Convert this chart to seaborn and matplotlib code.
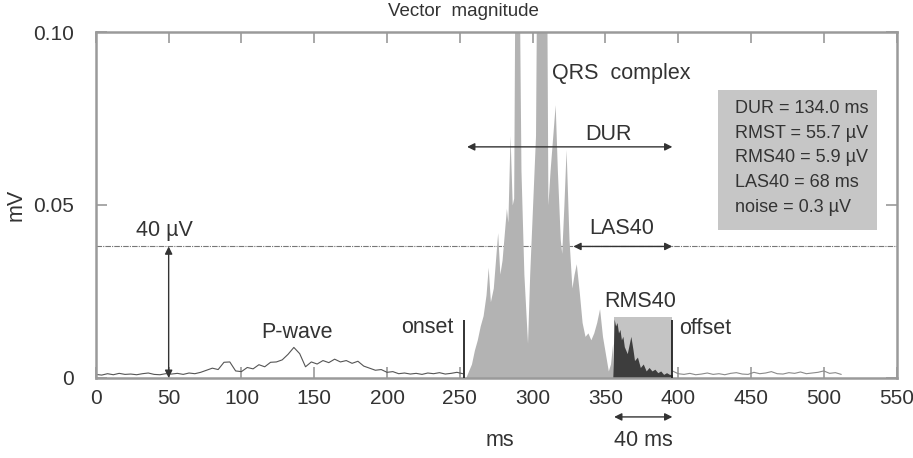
import numpy as np
import pandas as pd
import matplotlib
matplotlib.use("Agg")
import matplotlib.pyplot as plt
from matplotlib.patches import Rectangle
import seaborn as sns

# --- data (ms, mV) ---
pre_t = np.arange(0, 253, 4)
pre_v = [.0010, .0008, .0012, .0009, .0013, .0010, .0011, .0009, .0012, .0014,
         .0010, .0009, .0012, .0011, .0013, .0010, .0014, .0012, .0016,
         .0022, .0028, .0024, .0045, .0046, .0020, .0018, .0030, .0026, .0038,
         .0032, .0045, .0046, .0052, .0068, .0088, .0070, .0032, .0046, .0040,
         .0050, .0044, .0054, .0046, .0050, .0042, .0048, .0034, .0028, .0022,
         .0024, .0016,
         .0018, .0012, .0014, .0011, .0013, .0010, .0014, .0012, .0015, .0011,
         .0013, .0016, .0012]

post_t = np.arange(396, 513, 4)
post_v = [.0020, .0012, .0010, .0013, .0009, .0011, .0014, .0010, .0012, .0009,
          .0013, .0015, .0011, .0010, .0016, .0012, .0014, .0018, .0012, .0011,
          .0015, .0013, .0017, .0012, .0014, .0016, .0020, .0013, .0015, .0010]

qrs_t = [254, 256, 258, 260, 262, 264, 266, 268, 269.5, 271, 273, 276, 277.5, 279,
         282, 283, 284.5, 286, 287, 288, 290.5, 292, 294, 296.5, 298, 300, 302,
         303, 309.5, 310.5, 312, 315.5, 317, 319, 320, 321.5, 323, 325, 327, 328.5,
         330, 332, 334, 336, 338, 340, 342, 344, 346, 348, 350, 352, 353.5, 355]
qrs_v = [0.000, 0.002, 0.004, 0.008, 0.011, 0.015, 0.018, 0.024, 0.032, 0.022,
         0.026, 0.042, 0.030, 0.034, 0.049, 0.045, 0.070, 0.050, 0.052, 0.130,
         0.130, 0.060, 0.030, 0.010, 0.030, 0.050, 0.070, 0.130, 0.130, 0.050,
         0.060, 0.079, 0.060, 0.040, 0.036, 0.050, 0.066, 0.040, 0.026, 0.030,
         0.033, 0.025, 0.016, 0.012, 0.013, 0.011, 0.013, 0.016, 0.020, 0.012,
         0.007, 0.002, 0.004, 0.010]

late_t = [355, 356, 357, 358, 359, 360, 361, 362, 363, 364, 365, 366, 367.5, 369,
          370, 372, 374, 376, 378, 380, 382, 384, 386, 388, 390, 392, 394, 396]
late_v = [0.000, 0.017, 0.015, 0.016, 0.013, 0.014, 0.011, 0.012, 0.009, 0.008,
          0.007, 0.009, 0.012, 0.008, 0.005, 0.006, 0.003, 0.004, 0.002, 0.003,
          0.002, 0.0025, 0.0015, 0.002, 0.001, 0.0015, 0.001, 0.001]

onset, offset = 253, 396
las_start = 328
threshold = 0.038
stats = ["DUR = 134.0 ms", "RMST = 55.7 µV", "RMS40 = 5.9 µV",
         "LAS40 = 68 ms", "noise = 0.3 µV"]

sns.set_theme(style="white")
plt.rcParams["font.family"] = ["Liberation Sans", "DejaVu Sans"]
TXT = "#333333"
FRAME = "#9a9a9a"

fig = plt.figure(figsize=(9.13, 4.58), dpi=100)
ax = fig.add_axes([0.105, 0.175, 0.877, 0.755])

noise = pd.DataFrame({"t": np.concatenate([pre_t, post_t]),
                      "v": np.concatenate([pre_v, post_v]),
                      "seg": ["pre"] * len(pre_t) + ["post"] * len(post_t)})
sns.lineplot(data=noise[noise.seg == "pre"], x="t", y="v", ax=ax,
             color="#555555", lw=0.8, estimator=None)
sns.lineplot(data=noise[noise.seg == "post"], x="t", y="v", ax=ax,
             color="#8a8a8a", lw=0.8, estimator=None)

ax.fill_between(qrs_t, qrs_v, color="#b3b3b3", lw=0)
ax.add_patch(Rectangle((late_t[0] + 1, 0), offset - late_t[0] - 1, 0.0175,
                       facecolor="#c4c4c4", edgecolor="none", zorder=1))
ax.fill_between(late_t, late_v, color="#3d3d3d", lw=0, zorder=2)

ax.vlines([onset, offset], 0, 0.0168, color="#222222", lw=1.3, zorder=3)
ax.axhline(threshold, color="#777777", lw=0.8, ls=(0, (5, 1, 1, 1)), zorder=0)

arrow = dict(arrowstyle="<|-|>", color=TXT, lw=1.0, mutation_scale=11,
             shrinkA=0, shrinkB=0)
ax.annotate("", xy=(50, 0), xytext=(50, threshold), arrowprops=arrow)
ax.annotate("", xy=(255, 0.0668), xytext=(offset, 0.0668), arrowprops=arrow)
ax.annotate("", xy=(las_start, threshold), xytext=(offset, threshold), arrowprops=arrow)
ax.annotate("", xy=(356, -0.0113), xytext=(offset, -0.0113), arrowprops=arrow,
            annotation_clip=False)

fs = 15.5
ax.text(47, 0.0425, "40 µV", ha="center", va="center", fontsize=fs, color=TXT)
ax.text(138, 0.013, "P-wave", ha="center", va="center", fontsize=fs, color=TXT)
ax.text(246, 0.0147, "onset", ha="right", va="center", fontsize=fs, color=TXT)
ax.text(400.5, 0.0142, "offset", ha="left", va="center", fontsize=fs, color=TXT)
ax.text(374, 0.022, "RMS40", ha="center", va="center", fontsize=fs, color=TXT)
ax.text(361, 0.0432, "LAS40", ha="center", va="center", fontsize=fs, color=TXT)
ax.text(352, 0.0705, "DUR", ha="center", va="center", fontsize=fs, color=TXT)
ax.text(361, 0.088, "QRS  complex", ha="center", va="center", fontsize=fs, color=TXT)
ax.text(376, -0.018, "40 ms", ha="center", va="center", fontsize=fs, color=TXT,
        clip_on=False)

ax.add_patch(Rectangle((427.4, 0.0428), 109.4, 0.0404, facecolor="#c6c6c6",
                       edgecolor="none", zorder=1))
for i, s in enumerate(stats):
    ax.text(439, 0.078 - i * 0.0072, s, ha="left", va="center", fontsize=13,
            color=TXT, zorder=4)

ax.set_xlim(0, 550)
ax.set_ylim(0, 0.10)
ax.set_xticks(range(0, 551, 50))
ax.set_yticks([0, 0.05, 0.10])
ax.set_yticklabels(["0", "0.05", "0.10"])
ax.tick_params(direction="in", length=8, width=1.2, color=FRAME, labelsize=15,
               labelcolor=TXT, top=True, right=True, bottom=True, left=True)
ax.tick_params(axis="x", pad=8)
ax.tick_params(axis="y", pad=16)
for sp in ax.spines.values():
    sp.set_color(FRAME)
    sp.set_linewidth(1.8)
ax.set_xlabel("")
ax.set_ylabel("")

fig.text(500 / 913, 1 - 440 / 458, "ms", ha="center", va="center", fontsize=fs, color=TXT)
fig.text(16 / 913, 1 - 205 / 458, "mV", ha="center", va="center", fontsize=fs,
         color=TXT, rotation=90)
fig.text(463 / 913, 1 - 11 / 458, "Vector  magnitude", ha="center", va="center",
         fontsize=13.5, color=TXT)

fig.savefig("out.png", dpi=100)
